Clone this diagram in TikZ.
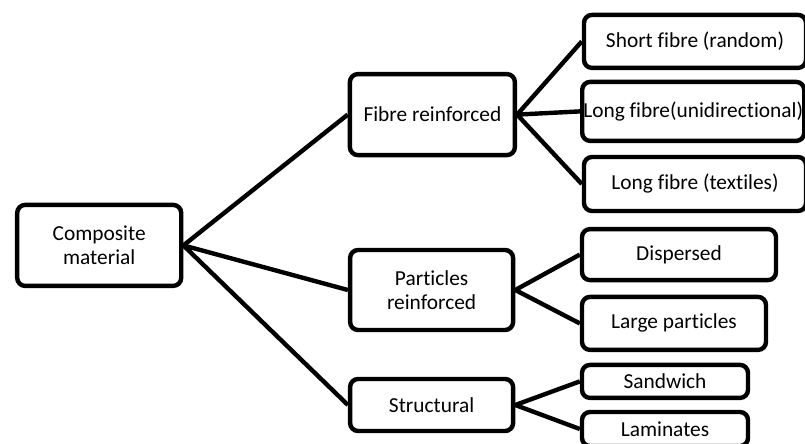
\documentclass[tikz,border=0pt]{standalone}
\usepackage{fontspec}
\setmainfont[Ligatures=NoCommon]{Carlito}
\usepackage{tikz}
\usetikzlibrary{positioning}

\begin{document}
\begin{tikzpicture}[
    block/.style={rectangle, draw=black, line width=0.11cm, rounded corners=0.2cm,
                  inner sep=0pt, align=center, font=\fontsize{15.2pt}{16.8pt}\selectfont},
    link/.style={line width=0.11cm}
]

    % Frame
    \useasboundingbox (0, 0) rectangle (20.125, 11.075);
    \clip (0, 0) rectangle (20.125, 11.075);

    % Root
    \node[block, minimum width=4.1cm, minimum height=2.025cm] (comp) at (2.48, 4.94) {Composite\\material};

    % Main groups
    \node[block, minimum width=4.125cm, minimum height=2.025cm] (fibre) at (10.81, 8.21) {Fibre reinforced};
    \node[block, minimum width=4.075cm, minimum height=2.0cm] (particles) at (10.79, 3.825) {Particles\\reinforced};
    \node[block, minimum width=4.075cm, minimum height=1.3cm] (struct) at (10.79, 0.95) {Structural};

    % Fibre types
    \node[block, minimum width=5.55cm, minimum height=1.325cm] (short) at (17.375, 10.04) {Short fibre (random)};
    \node[block, minimum width=5.55cm, minimum height=1.475cm] (longuni) at (17.33, 8.29) {Long fibre(unidirectional)};
    \node[block, minimum width=5.55cm, minimum height=1.35cm] (longtex) at (17.375, 6.475) {Long fibre (textiles)};

    % Particle types
    \node[block, minimum width=4.85cm, minimum height=1.275cm] (disp) at (16.975, 4.71) {Dispersed};
    \node[block, minimum width=4.6cm, minimum height=1.325cm] (large) at (16.85, 2.99) {Large particles};

    % Structural types
    \node[block, minimum width=4.15cm, minimum height=0.825cm] (sand) at (16.625, 1.54) {Sandwich};
    \node[block, minimum width=4.15cm, minimum height=0.85cm] (lam) at (16.625, 0.35) {Laminates};

    % Links
    \draw[link] (comp.east) -- (fibre.west);
    \draw[link] (comp.east) -- (particles.west);
    \draw[link] (comp.east) -- (struct.west);
    \draw[link] (fibre.east) -- (short.west);
    \draw[link] (fibre.east) -- (longuni.west);
    \draw[link] (fibre.east) -- (longtex.west);
    \draw[link] (particles.east) -- (disp.west);
    \draw[link] (particles.east) -- (large.west);
    \draw[link] (struct.east) -- (sand.west);
    \draw[link] (struct.east) -- (lam.west);

\end{tikzpicture}
\end{document}
